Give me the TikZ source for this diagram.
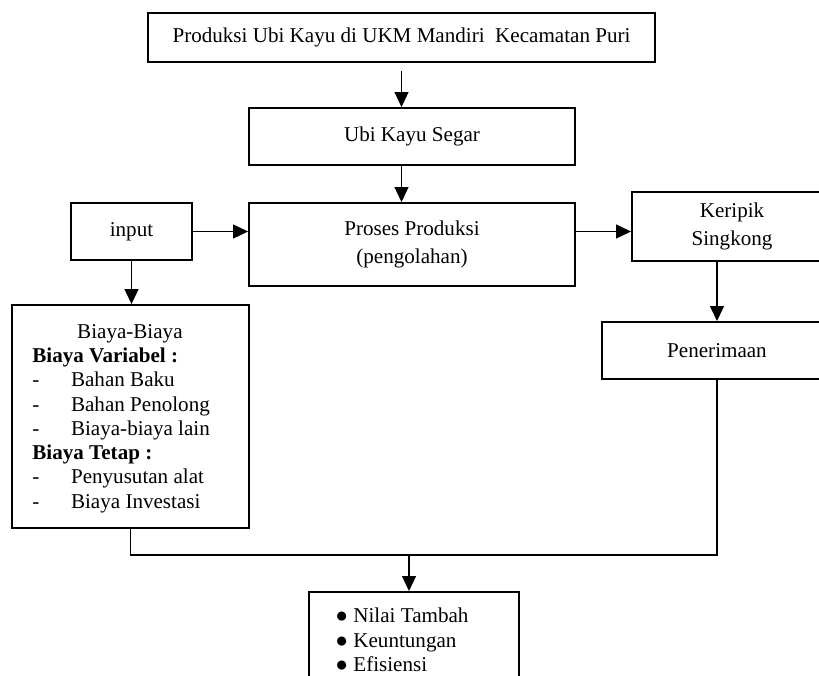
\documentclass[tikz,border=0pt]{standalone}
\usepackage{fontspec}
\setmainfont{Liberation Serif}
\usetikzlibrary{positioning,arrows.meta}
\tikzset{
  alurbox/.style={draw, line width=1.1pt, align=center, inner sep=0pt,
    font=\fontsize{12}{16}\selectfont},
  alurteks/.style={inner sep=0pt, align=left, font=\fontsize{12}{13.8}\selectfont},
  alurarrow/.style={-{Triangle[length=3mm, width=2.8mm]}, line width=0.6pt},
  alurline/.style={line width=0.6pt},
}

\begin{document}
\begin{tikzpicture}[x=0.02cm, y=-0.02cm]
  \useasboundingbox (0,0) rectangle (819,676);
  \clip (0,0) rectangle (819,676);
  % alur utama
  \node[alurbox, minimum width=10.14cm, minimum height=0.98cm] (produksi) at (401.5,37.5) {Produksi Ubi Kayu di UKM Mandiri\ \ Kecamatan Puri};
  \node[alurbox, minimum width=6.52cm, minimum height=1.14cm] (ubi) at (412,136.5) {Ubi Kayu Segar};
  \node[alurbox, minimum width=6.52cm, minimum height=1.66cm] (proses) at (412,244.5) {Proses Produksi\\(pengolahan)};
  \node[alurbox, minimum width=2.42cm, minimum height=1.14cm] (input) at (131.5,231.5) {input};
  \node[alurbox, minimum width=4cm, minimum height=1.38cm] (keripik) at (732,226.5) {Keripik\\Singkong};
  \node[alurbox, minimum width=4.6cm, minimum height=1.14cm] (terima) at (717,350.5) {Penerimaan};
  % biaya-biaya
  \node[alurbox, minimum width=4.74cm, minimum height=4.46cm] (biaya) at (130.5,416.5) {};
  \node[alurteks, anchor=north west] (biayateks) at ([xshift=4.2mm, yshift=-3.4mm]biaya.north west)
    {\begin{tabular}{@{}p{22pt}@{}p{89pt}@{}}
       \multicolumn{2}{@{}c@{}}{Biaya-Biaya}\\
       \multicolumn{2}{@{}l@{}}{\textbf{Biaya Variabel :}}\\
       - & Bahan Baku\\
       - & Bahan Penolong\\
       - & Biaya-biaya lain\\
       \multicolumn{2}{@{}l@{}}{\textbf{Biaya Tetap :}}\\
       - & Penyusutan alat\\
       - & Biaya Investasi
     \end{tabular}};
  % hasil
  \node[alurbox, minimum width=4.2cm, minimum height=2.18cm, anchor=north] (hasil) at (414,591) {};
  \node[alurteks, anchor=north west] (hasilteks) at ([xshift=5.4mm, yshift=-3.4mm]hasil.north west)
    {● Nilai Tambah\\● Keuntungan\\● Efisiensi};
  % panah
  \draw[alurarrow, shorten <=1.6mm] (produksi) -- (produksi |- ubi.north);
  \draw[alurarrow] (ubi.south -| produksi) -- (proses.north -| produksi);
  \draw[alurarrow] (input) -- (input -| proses.west);
  \draw[alurarrow] (proses.east |- input) -- (keripik.west |- input);
  \draw[alurarrow] (input.south) -- (input.south |- biaya.north);
  \draw[alurarrow] (keripik.south -| terima) -- (terima);
  \coordinate (gabung) at (409,555);
  \draw[alurline] (biaya) |- (gabung) -| (terima);
  \draw[alurarrow] (gabung) -- (gabung |- hasil.north);
\end{tikzpicture}
\end{document}
